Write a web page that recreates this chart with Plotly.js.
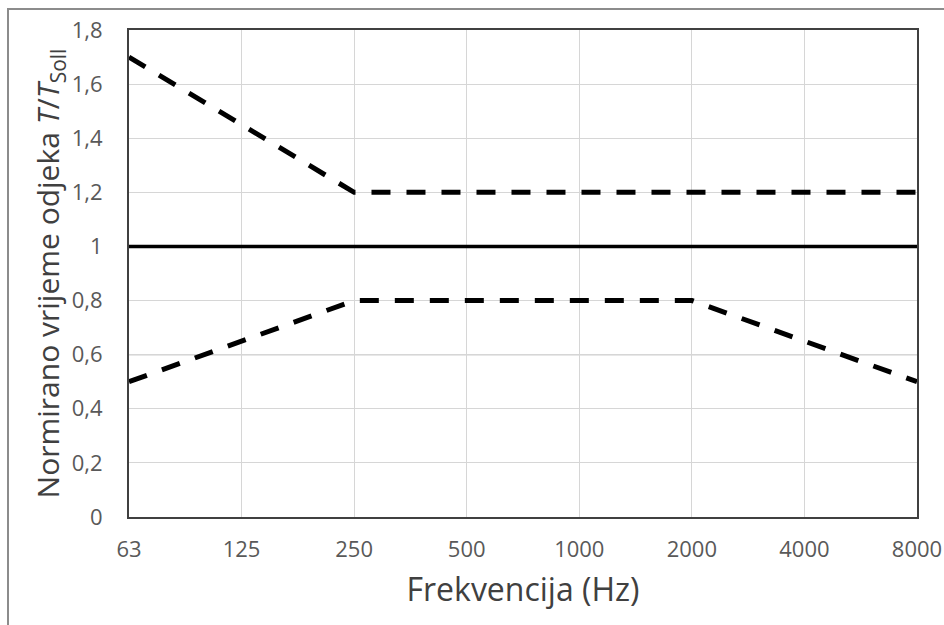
<!DOCTYPE html>
<html>
<head>
<meta charset="utf-8">
<script src="https://cdn.plot.ly/plotly-3.0.1.min.js"></script>
<style>
  html, body { margin: 0; padding: 0; background: #fff; }
  #wrap { position: relative; width: 944px; height: 625px; }
  #chart { width: 944px; height: 625px; }
  #frame { position: absolute; left: 7px; top: 8px; right: 0; bottom: 0;
           border-left: 2px solid #8c8c8c; border-top: 2px solid #8c8c8c; pointer-events: none; }
</style>
</head>
<body>
<div id="wrap"><div id="chart"></div><div id="frame"></div></div>
<script>
const frequencies = ["63", "125", "250", "500", "1000", "2000", "4000", "8000"];
const upperLimit = [1.7, 1.45, 1.2, 1.2, 1.2, 1.2, 1.2, 1.2];
const nominal = [1, 1, 1, 1, 1, 1, 1, 1];
const lowerLimit = [0.5, 0.65, 0.8, 0.8, 0.8, 0.8, 0.65, 0.5];
const yTicks = [0, 0.2, 0.4, 0.6, 0.8, 1, 1.2, 1.4, 1.6, 1.8];
const darkVerticalGrid = ["250", "2000", "4000"];
const darkHorizontalGrid = [0.6];

const dashLine = { color: "#000", width: 5, dash: "19px,16px" };

const traces = [
  { x: frequencies, y: upperLimit, type: "scatter", mode: "lines", line: dashLine, hoverinfo: "skip" },
  { x: frequencies, y: lowerLimit, type: "scatter", mode: "lines", line: dashLine, hoverinfo: "skip" },
  { x: frequencies, y: nominal, type: "scatter", mode: "lines", line: { color: "#000", width: 3.5 }, hoverinfo: "skip" }
];

const shapes = [];
darkVerticalGrid.forEach(f => shapes.push({
  type: "line", xref: "x", yref: "paper", x0: f, x1: f, y0: 0, y1: 1,
  line: { color: "#a0a0a0", width: 1.3 }, layer: "below"
}));
darkHorizontalGrid.forEach(v => shapes.push({
  type: "line", xref: "paper", yref: "y", x0: 0, x1: 1, y0: v, y1: v,
  line: { color: "#a0a0a0", width: 1.3 }, layer: "below"
}));

const layout = {
  width: 944, height: 625,
  margin: { l: 129, r: 27, t: 30, b: 108 },
  paper_bgcolor: "#fff", plot_bgcolor: "#fff",
  showlegend: false,
  separators: ", ",
  font: { family: "Open Sans, sans-serif", color: "#595959", size: 22 },
  xaxis: {
    type: "category",
    categoryorder: "array", categoryarray: frequencies,
    range: [0, frequencies.length - 1],
    tickvals: frequencies, ticktext: frequencies,
    showgrid: true, gridcolor: "#d6d6d6", gridwidth: 1,
    showline: true, mirror: true, linecolor: "#404040", linewidth: 2,
    ticks: "outside", ticklen: 12, tickcolor: "rgba(0,0,0,0)",
    tickfont: { size: 22, color: "#595959" },
    zeroline: false,
    title: { text: "Frekvencija (Hz)", font: { size: 32, color: "#404040" }, standoff: 16 }
  },
  yaxis: {
    range: [0, 1.8],
    tickvals: yTicks,
    showgrid: true, gridcolor: "#d6d6d6", gridwidth: 1,
    showline: true, mirror: true, linecolor: "#404040", linewidth: 2,
    ticks: "outside", ticklen: 20, tickcolor: "rgba(0,0,0,0)",
    tickfont: { size: 22, color: "#595959" },
    zeroline: false,
    title: { text: "Normirano vrijeme odjeka <i>T</i>/<i>T</i><sub>Soll</sub>", font: { size: 30, color: "#404040" }, standoff: 0 }
  },
  shapes: shapes
};

Plotly.newPlot("chart", traces, layout, { displayModeBar: false, staticPlot: true });
</script>
</body>
</html>
